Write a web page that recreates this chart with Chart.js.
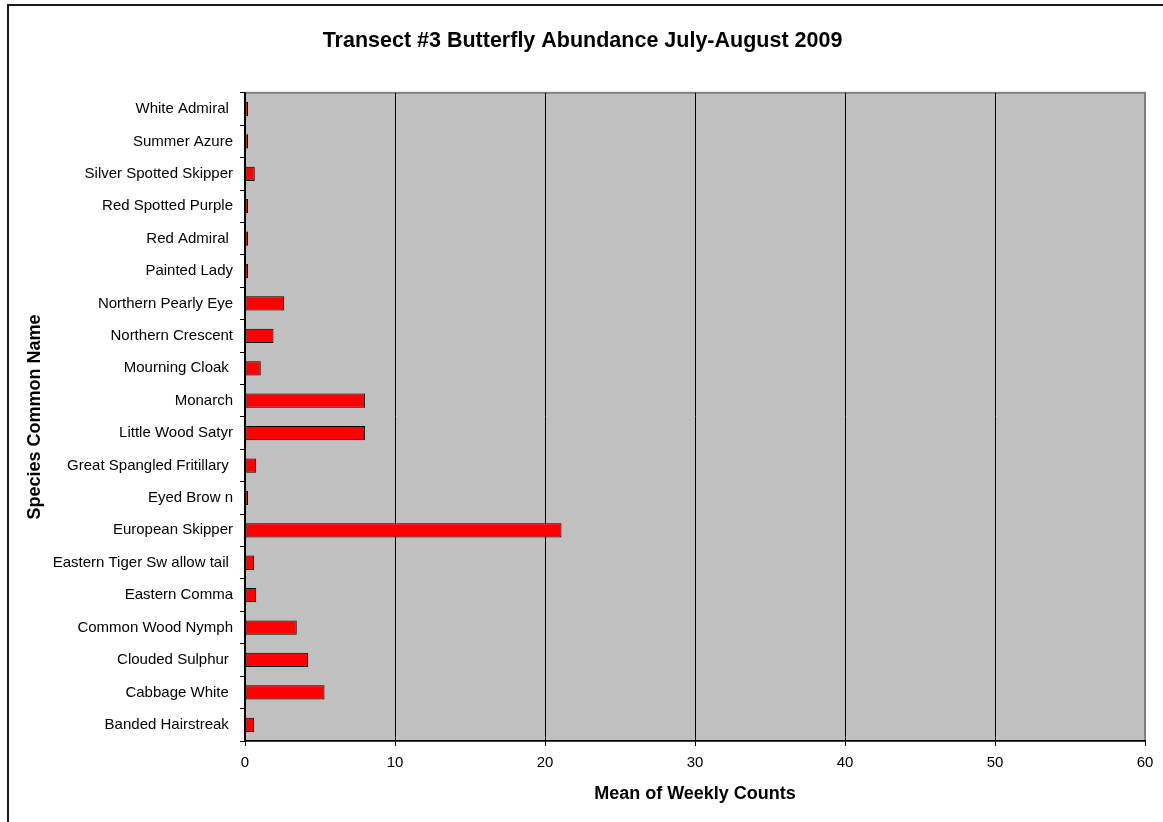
<!DOCTYPE html>
<html>
<head>
<meta charset="utf-8">
<script src="https://cdn.jsdelivr.net/npm/chart.js@4"></script>
<style>
  html, body { margin: 0; padding: 0; overflow: hidden; background: #fff; }
  #frame {
    position: absolute; left: 7px; top: 4px; width: 1200px; height: 900px;
    border: 2px solid #1a1a1a; box-sizing: border-box;
  }
  #wrap { position: absolute; left: 0; top: 0; width: 1163px; height: 822px; }
</style>
</head>
<body>
<div id="frame"></div>
<div id="wrap"><canvas id="chart" width="1163" height="822"></canvas></div>
<script>
// species, listed top to bottom as they appear on the category axis
var species = [
    'White Admiral ',
    'Summer Azure',
    'Silver Spotted Skipper',
    'Red Spotted Purple',
    'Red Admiral ',
    'Painted Lady',
    'Northern Pearly Eye',
    'Northern Crescent',
    'Mourning Cloak ',
    'Monarch',
    'Little Wood Satyr',
    'Great Spangled Fritillary ',
    'Eyed Brow n',
    'European Skipper',
    'Eastern Tiger Sw allow tail ',
    'Eastern Comma',
    'Common Wood Nymph',
    'Clouded Sulphur ',
    'Cabbage White ',
    'Banded Hairstreak ',
];

// mean of weekly counts for each species
var meanCounts = [
    0.2, 0.2, 0.65, 0.2, 0.2, 0.2, 2.6, 1.9, 1.05, 8.0,
    8.0, 0.75, 0.2, 21.1, 0.6, 0.75, 3.45, 4.2, 5.3, 0.6,
];

var xTicks = [0, 10, 20, 30, 40, 50, 60];

var FONT = "'Liberation Sans', Arial, sans-serif";
var PAD_LEFT = 20;

// grey plot area with a thin grey border
var plotArea = {
    id: 'plotArea',
    beforeDraw: function(chart) {
	var a = chart.chartArea;
	var ctx = chart.ctx;
	ctx.save();
	ctx.fillStyle = '#c0c0c0';
	ctx.fillRect(a.left, a.top, a.right - a.left, a.bottom - a.top);
	ctx.strokeStyle = '#808080';
	ctx.lineWidth = 2;
	ctx.strokeRect(a.left, a.top, a.right - a.left, a.bottom - a.top);
	ctx.restore();
    },
};

var conf = {
    type: 'bar',
    data: {
	labels: species,
	datasets: [{
	    data: meanCounts,
	    backgroundColor: '#ff0000',
	    borderColor: '#000000',
	    borderWidth: 1,
	    borderSkipped: false,
	    barPercentage: 0.44,
	    categoryPercentage: 1.0,
	}],
    },
    options: {
	indexAxis: 'y',
	responsive: false,
	animation: false,
	layout: { padding: { top: 0, left: PAD_LEFT, right: 18, bottom: 0 } },
	plugins: {
	    legend: { display: false },
	    tooltip: { enabled: false },
	    title: {
		display: true,
		text: 'Transect #3 Butterfly Abundance July-August 2009',
		color: '#000',
		font: { family: FONT, size: 21.5, weight: 'bold' },
		padding: { top: 28, bottom: 39 },
	    },
	},
	scales: {
	    x: {
		type: 'linear',
		min: 0,
		max: 60,
		afterBuildTicks: function(scale) {
		    scale.ticks = xTicks.map(function(v) { return {value: v}; });
		},
		afterFit: function(scale) { scale.height = 81; },
		grid: {
		    color: function(c) { return c.tick && c.tick.value == 60 ? '#808080' : '#000'; },
		    tickColor: '#000',
		    lineWidth: 1,
		    tickLength: 5,
		},
		border: { color: '#000', width: 1.5 },
		ticks: {
		    color: '#000',
		    font: { family: FONT, size: 15 },
		    padding: 8,
		},
		title: {
		    display: true,
		    text: 'Mean of Weekly Counts',
		    color: '#000',
		    font: { family: FONT, size: 18, weight: 'bold' },
		    padding: { top: 0, bottom: 17 },
		},
	    },
	    y: {
		afterFit: function(scale) { scale.width = 245 - PAD_LEFT; },
		grid: {
		    drawOnChartArea: false,
		    color: '#000',
		    tickLength: 5,
		},
		border: { color: '#000', width: 1.5 },
		ticks: {
		    color: '#000',
		    font: { family: FONT, size: 15 },
		    padding: 7,
		    autoSkip: false,
		},
		title: {
		    display: true,
		    text: 'Species Common Name',
		    color: '#000',
		    font: { family: FONT, size: 18, weight: 'bold' },
		    padding: { top: 24 - PAD_LEFT, bottom: 0 },
		},
	    },
	},
    },
    plugins: [plotArea],
};

new Chart(document.getElementById('chart').getContext('2d'), conf);
</script>
</body>
</html>
